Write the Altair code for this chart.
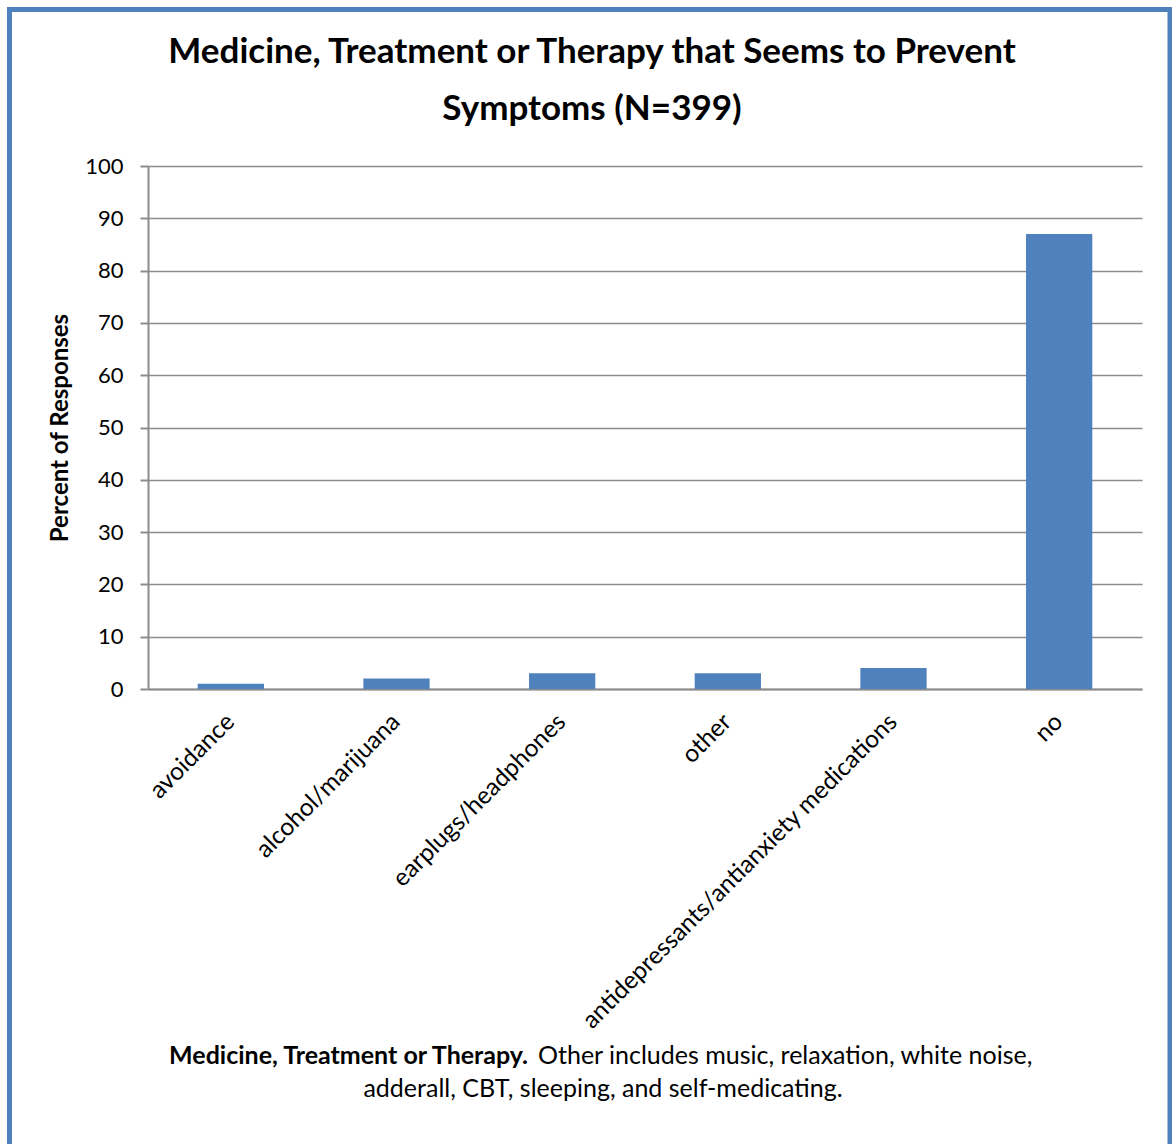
import altair as alt
import pandas as pd

categories = ["avoidance", "alcohol/marijuana", "earplugs/headphones", "other",
              "antidepressants/antianxiety medications", "no"]
percents = [1, 2, 3, 3, 4, 87]
y_ticks = [0, 10, 20, 30, 40, 50, 60, 70, 80, 90, 100]
title_lines = ["Medicine, Treatment or Therapy that Seems to Prevent", "Symptoms (N=399)"]
y_title = "Percent of Responses"
caption_bold = "Medicine, Treatment or Therapy."
caption_rest_1 = "Other includes music, relaxation, white noise,"
caption_line_2 = "adderall, CBT, sleeping, and self-medicating."

BLUE = "#4F81BD"
GRID = "#8C8C8C"
FONT = "Lato"
W, H = 994, 523

df = pd.DataFrame({"category": categories, "percent": percents})
one = pd.DataFrame({"a": [0]})

bars = alt.Chart(df).mark_bar(color=BLUE).encode(
    x=alt.X("category:N", sort=categories,
            scale=alt.Scale(paddingInner=0.6, paddingOuter=0.3),
            axis=alt.Axis(title=None, labelAngle=-45, labelAlign="right",
                          labelBaseline="middle", labelPadding=29, ticks=False,
                          labelFontSize=24.5, labelColor="#000", labelFont=FONT,
                          domainColor=GRID, domainWidth=2, grid=False,
                          labelLimit=1000)),
    y=alt.Y("percent:Q", scale=alt.Scale(domain=[0, 100], nice=False),
            axis=alt.Axis(values=y_ticks, title=y_title, titleFont=FONT,
                          titleFontSize=24, titleFontWeight="bold", titleColor="#000",
                          titleX=-88, titleY=H / 2, titleAngle=-90,
                          titleAlign="center", titleBaseline="middle",
                          labelFontSize=22, labelColor="#000", labelFont=FONT,
                          labelPadding=17, tickSize=8, tickColor=GRID, tickWidth=2,
                          domainColor=GRID, domainWidth=2, gridColor=GRID,
                          gridWidth=1.5, grid=True)),
)

def txt(text, x, y, size, weight="normal", align="center"):
    return alt.Chart(one).mark_text(
        text=text, font=FONT, fontSize=size, fontWeight=weight, align=align,
        baseline="alphabetic", color="#000"
    ).encode(x=alt.value(x), y=alt.value(y))

title1 = txt(title_lines[0], 444, -103, 35, "bold")
title2 = txt(title_lines[1], 444, -46, 35, "bold")
cap1a = txt(caption_bold, 380, 898, 25, "bold", "right")
cap1b = txt(caption_rest_1, 390, 898, 25, "normal", "left")
cap2 = txt(caption_line_2, 455, 931, 25)

frame = alt.Chart(one).mark_rect(fillOpacity=0, stroke=BLUE, strokeWidth=5).encode(
    x=alt.value(-138.5), x2=alt.value(1022), y=alt.value(-156.5), y2=alt.value(990)
)

chart = alt.layer(bars, title1, title2, cap1a, cap1b, cap2, frame).properties(
    width=W, height=H,
    autosize=alt.AutoSizeParams(type="none"),
    padding={"left": 148, "top": 166, "right": 30, "bottom": 455},
    background="white",
).configure_view(stroke=None)

chart.save("out.html", embed_options={"renderer": "svg", "actions": False})
